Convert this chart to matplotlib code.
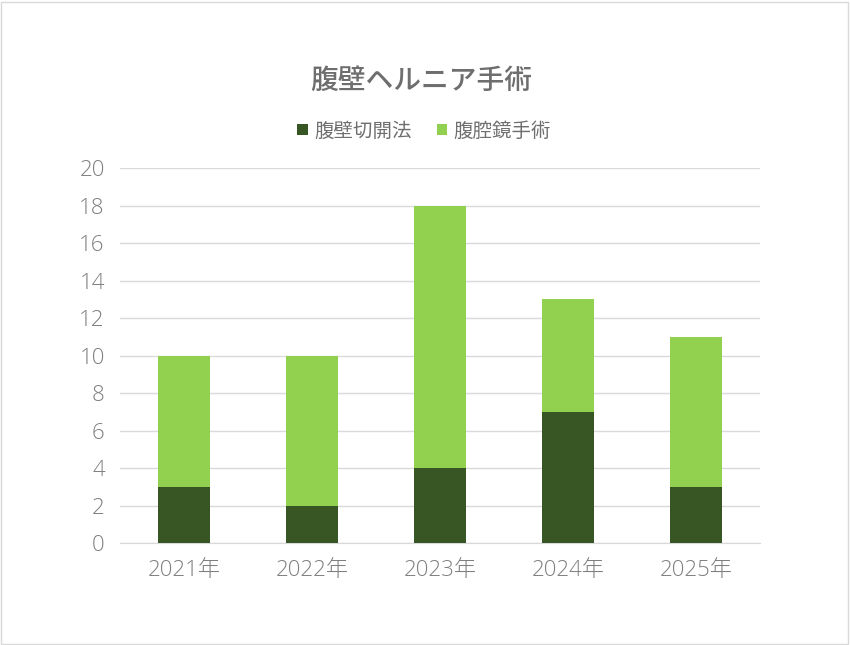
import matplotlib
matplotlib.use("Agg")
import matplotlib.pyplot as plt
from matplotlib.patches import Rectangle

plt.rcParams['font.family'] = ['Noto Sans CJK JP', 'DejaVu Sans']

years = ["2021年", "2022年", "2023年", "2024年", "2025年"]
open_surgery = [3, 2, 4, 7, 3]
laparoscopic = [7, 8, 14, 6, 8]
series_names = ["腹壁切開法", "腹腔鏡手術"]
title = "腹壁ヘルニア手術"

dark_green = "#375623"
light_green = "#92D050"
text_gray = "#7F7F7F"
tick_fonts = ['Open Sans', 'Noto Sans CJK JP']

fig = plt.figure(figsize=(8.5, 6.45), dpi=100)
fig.patches.append(Rectangle((0.001, 0.0015), 0.997, 0.996, transform=fig.transFigure,
                             fill=False, edgecolor="#D9D9D9", linewidth=1.0))

ax = fig.add_axes([0.1412, 0.1581, 0.7529, 0.5814])
x = range(len(years))
width = 0.406
b1 = ax.bar(x, open_surgery, width, color=dark_green, label=series_names[0], zorder=3)
b2 = ax.bar(x, laparoscopic, width, bottom=open_surgery, color=light_green,
            label=series_names[1], zorder=3)

ax.set_xlim(-0.5, len(years) - 0.5)
ax.set_ylim(0, 20)
ax.set_yticks(range(0, 21, 2))
ax.set_xticks(list(x))
ax.set_xticklabels(years)
ax.yaxis.grid(True, color="#D9D9D9", linewidth=1.0, zorder=0)
ax.set_axisbelow(True)
for s in ["top", "right", "left"]:
    ax.spines[s].set_visible(False)
ax.spines["bottom"].set_color("#D9D9D9")
ax.tick_params(axis="both", length=0, labelsize=16, labelcolor=text_gray)
ax.tick_params(axis="y", pad=11)
ax.tick_params(axis="x", pad=12)
for lab in ax.get_xticklabels() + ax.get_yticklabels():
    lab.set_fontfamily(tick_fonts)
    lab.set_fontweight("light")

fig.text(0.495, 0.876, title, ha="center", va="center", fontsize=20,
         color="#6E6E6E", fontweight="medium")
fig.legend(handles=[b1, b2], labels=series_names, loc="center", bbox_to_anchor=(0.499, 0.797),
           ncol=2, frameon=False, fontsize=14, labelcolor="#6E6E6E",
           handlelength=0.55, handleheight=0.55, handletextpad=0.3, columnspacing=1.3)

fig.savefig("out.png", dpi=100)
